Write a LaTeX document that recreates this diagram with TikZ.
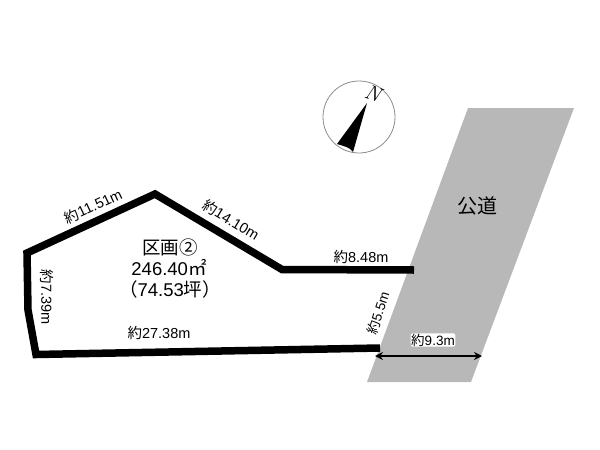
\documentclass[tikz,border=0pt]{standalone}
\usepackage{fontspec}
\setmainfont{Liberation Sans}
\newfontfamily\cjk{Noto Sans CJK JP}
\usetikzlibrary{arrows.meta}
\newcommand{\yk}{{\cjk 約}}
\tikzset{
  lot/.style={line width=7.5pt,miter limit=10},
  lbl/.style={font=\fontsize{14.5}{16}\selectfont,inner sep=0.5pt},
  lblsm/.style={font=\fontsize{13.5}{15}\selectfont,inner sep=0.5pt},
  big/.style={font=\fontsize{18.5}{20}\selectfont,inner sep=0pt}
}
\begin{document}
\begin{tikzpicture}[x=1pt,y=-1pt]
  \useasboundingbox (0,0) rectangle (600,450);
  % road
  \fill[black!28] (468,108) -- (574,108) -- (471,382) -- (367,382) -- cycle;
  \node[inner sep=0pt,font=\cjk\fontsize{20}{22}\selectfont] (road) at (477,206) {公道};
  % compass
  \coordinate (ctr) at (359,117);
  \draw[black!45,line width=0.8pt] (ctr) circle (36);
  \fill (367,103) -- (337,144) .. controls (343,146) and (350,147) .. (353,152) -- cycle;
  \node[font=\fontfamily{lmr}\fontsize{21}{21}\selectfont\itshape,inner sep=0pt,rotate=-20] (north) at (373,93) {N};
  % lot
  \coordinate (p1) at (27,253);
  \coordinate (p2) at (155,194);
  \coordinate (p3) at (282,269.5);
  \coordinate (p4) at (414,270);
  \coordinate (p5) at (380,348);
  \coordinate (p6) at (36,354.5);
  \coordinate (p7) at (28,310);
  \draw[lot] (p4) -- (p3) -- (p2) -- (p1) -- (p7) -- (p6) -- (p5);
  % labels
  \node[lbl,rotate=25] (lenA) at (93,206) {\yk 11.51m};
  \node[lbl,rotate=-31] (lenB) at (231,220) {\yk 14.10m};
  \node[lbl] (lenC) at (361,257) {\yk 8.48m};
  \node[lbl,rotate=-90] (lenD) at (47,297) {\yk 7.39m};
  \node[lbl] (lenE) at (159,333) {\yk 27.38m};
  \node[lblsm,rotate=72] (lenF) at (378,313) {\yk 5.5m};
  \node[big] (title) at (170,247) {\cjk 区画②};
  \node[big] (area) at (169,268) {246.40{\cjk ㎡}};
  \node[big] (tsubo) at (170,289) {{\cjk （}74.53{\cjk 坪）}};
  % width
  \coordinate (wa) at (375,356);
  \coordinate (wb) at (482,356);
  \draw[{Stealth[length=8pt,width=8pt]}-{Stealth[length=8pt,width=8pt]},line width=2pt] (wa) -- (wb);
  \node[lblsm,fill=white,rounded corners=2pt] (lenG) at (433,340) {\yk 9.3m};
\end{tikzpicture}
\end{document}
